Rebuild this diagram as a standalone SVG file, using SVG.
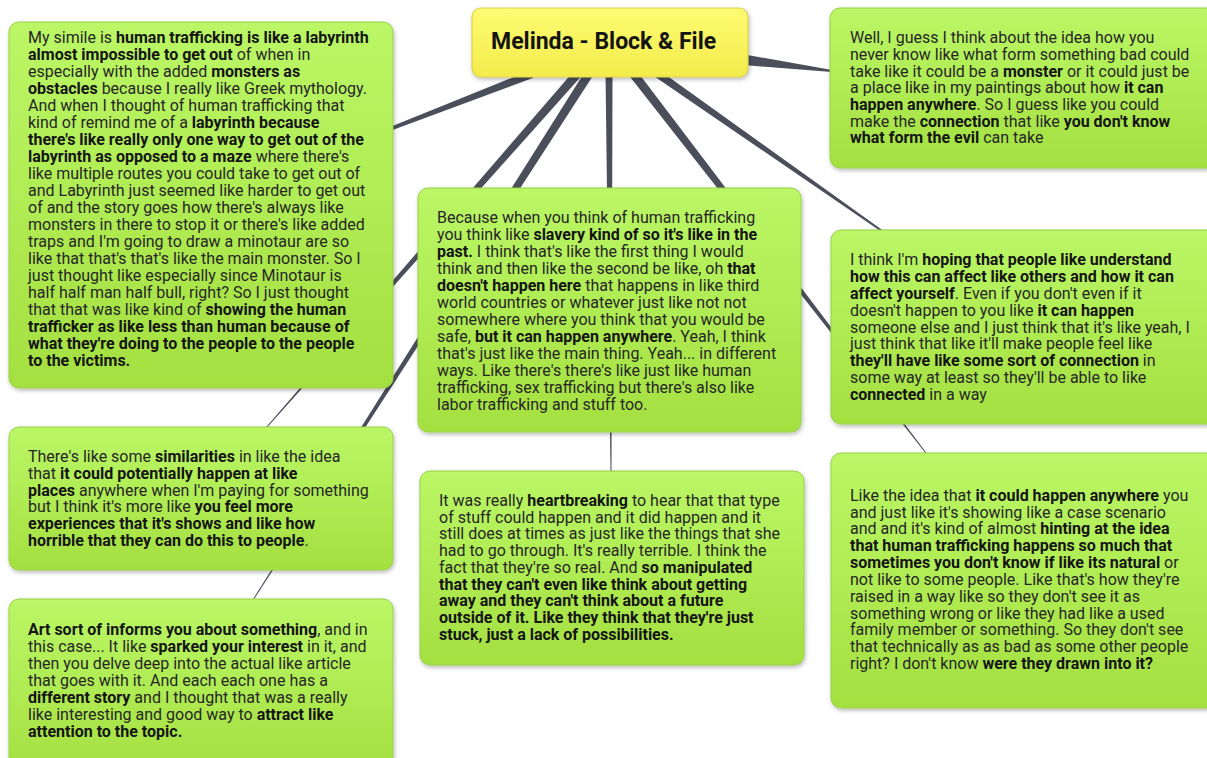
<svg xmlns="http://www.w3.org/2000/svg" width="1207" height="758" viewBox="0 0 1207 758">
  <defs>
    <linearGradient id="leaf" x1="0" y1="0" x2="0" y2="1">
      <stop offset="0" stop-color="#bbf766"/>
      <stop offset="1" stop-color="#a4e040"/>
    </linearGradient>
    <linearGradient id="sun" x1="0" y1="0" x2="0" y2="1">
      <stop offset="0" stop-color="#fdfb72"/>
      <stop offset="1" stop-color="#f3ec4c"/>
    </linearGradient>
    <filter id="shade" x="-5%" y="-5%" width="110%" height="115%">
      <feDropShadow dx="1" dy="2" stdDeviation="2" flood-color="#000" flood-opacity="0.28"/>
    </filter>
  </defs>
  <style>
    .box { fill: url(#leaf); stroke: #98d148; stroke-width: 1; filter: url(#shade); }
    .root { fill: url(#sun); stroke: #dcd24e; stroke-width: 1.2; filter: url(#shade); }
    .txt { font-family: Roboto, "Liberation Sans", sans-serif; font-size: 16px; fill: #262626; }
    .b { font-weight: bold; fill: #141414; }
    .title { font-family: Roboto, "Liberation Sans", sans-serif; font-size: 23px; font-weight: bold; fill: #141414; }
    .link { fill: #4a4f5b; }
  </style>
  <rect width="1207" height="758" fill="#ffffff"/>

  <!-- tapered branches from the central topic -->
  <g id="connectors">
    <polygon class="link" points="530.6,70.3 533.4,77.7 390.6,130.7 389.4,127.3"/>
    <polygon class="link" points="575.6,69.0 582.4,75.0 266.4,428.3 265.6,427.7"/>
    <polygon class="link" points="586.2,69.6 593.8,74.4 253.4,600.3 252.6,599.7"/>
    <polygon class="link" points="605.5,72 612.5,72 611.5,471 610.5,471"/>
    <polygon class="link" points="628.4,74.7 635.6,69.3 926.4,452.7 925.6,453.3"/>
    <polygon class="link" points="652.7,75.3 657.3,68.7 882.6,230.2 881.4,231.8"/>
    <polygon class="link" points="743.4,65.0 744.6,54.5 832.1,70.0 831.9,72.0"/>
  </g>

  <g id="root">
    <rect class="root" x="472" y="8" width="276" height="69" rx="9"/>
    <text class="title" x="491" y="49">Melinda - Block &amp; File</text>
  </g>

  <g id="simile">
    <rect class="box" x="9" y="22" width="384" height="366" rx="10"/>
    <text class="txt">
      <tspan x="28" y="43">My simile is <tspan class="b">human trafficking is like a labyrinth</tspan></tspan>
      <tspan x="28" y="60"><tspan class="b">almost impossible to get out</tspan> of when in</tspan>
      <tspan x="28" y="77">especially with the added <tspan class="b">monsters as</tspan></tspan>
      <tspan x="28" y="94"><tspan class="b">obstacles</tspan> because I really like Greek mythology.</tspan>
      <tspan x="28" y="111">And when I thought of human trafficking that</tspan>
      <tspan x="28" y="128">kind of remind me of a <tspan class="b">labyrinth because</tspan></tspan>
      <tspan x="28" y="145"><tspan class="b">there's like really only one way to get out of the</tspan></tspan>
      <tspan x="28" y="162"><tspan class="b">labyrinth as opposed to a maze</tspan> where there's</tspan>
      <tspan x="28" y="179">like multiple routes you could take to get out of</tspan>
      <tspan x="28" y="196">and Labyrinth just seemed like harder to get out</tspan>
      <tspan x="28" y="213">of and the story goes how there's always like</tspan>
      <tspan x="28" y="230">monsters in there to stop it or there's like added</tspan>
      <tspan x="28" y="247">traps and I'm going to draw a minotaur are so</tspan>
      <tspan x="28" y="264">like that that's that's like the main monster. So I</tspan>
      <tspan x="28" y="281">just thought like especially since Minotaur is</tspan>
      <tspan x="28" y="298">half half man half bull, right? So I just thought</tspan>
      <tspan x="28" y="315">that that was like kind of <tspan class="b">showing the human</tspan></tspan>
      <tspan x="28" y="332"><tspan class="b">trafficker as like less than human because of</tspan></tspan>
      <tspan x="28" y="349"><tspan class="b">what they're doing to the people to the people</tspan></tspan>
      <tspan x="28" y="366"><tspan class="b">to the victims.</tspan></tspan>
    </text>
  </g>

  <g id="evil-form">
    <rect class="box" x="830" y="8" width="387" height="160" rx="10"/>
    <text class="txt">
      <tspan x="850" y="43">Well, I guess I think about the idea how you</tspan>
      <tspan x="850" y="60">never know like what form something bad could</tspan>
      <tspan x="850" y="77">take like it could be a <tspan class="b">monster</tspan> or it could just be</tspan>
      <tspan x="850" y="93">a place like in my paintings about how <tspan class="b">it can</tspan></tspan>
      <tspan x="850" y="110"><tspan class="b">happen anywhere</tspan>. So I guess like you could</tspan>
      <tspan x="850" y="127">make the <tspan class="b">connection</tspan> that like <tspan class="b">you don't know</tspan></tspan>
      <tspan x="850" y="143"><tspan class="b">what form the evil</tspan> can take</tspan>
    </text>
  </g>

  <g id="slavery">
    <rect class="box" x="418" y="188" width="383" height="244" rx="10"/>
    <text class="txt">
      <tspan x="437" y="223">Because when you think of human trafficking</tspan>
      <tspan x="437" y="240">you think like <tspan class="b">slavery kind of so it's like in the</tspan></tspan>
      <tspan x="437" y="257"><tspan class="b">past.</tspan> I think that's like the first thing I would</tspan>
      <tspan x="437" y="274">think and then like the second be like, oh <tspan class="b">that</tspan></tspan>
      <tspan x="437" y="291"><tspan class="b">doesn't happen here</tspan> that happens in like third</tspan>
      <tspan x="437" y="308">world countries or whatever just like not not</tspan>
      <tspan x="437" y="325">somewhere where you think that you would be</tspan>
      <tspan x="437" y="342">safe, <tspan class="b">but it can happen anywhere</tspan>. Yeah, I think</tspan>
      <tspan x="437" y="359">that's just like the main thing. Yeah... in different</tspan>
      <tspan x="437" y="376">ways. Like there's there's like just like human</tspan>
      <tspan x="437" y="393">trafficking, sex trafficking but there's also like</tspan>
      <tspan x="437" y="410">labor trafficking and stuff too.</tspan>
    </text>
  </g>

  <g id="connection">
    <rect class="box" x="831" y="230" width="386" height="194" rx="10"/>
    <text class="txt">
      <tspan x="850" y="265">I think I'm <tspan class="b">hoping that people like understand</tspan></tspan>
      <tspan x="850" y="282"><tspan class="b">how this can affect like others and how it can</tspan></tspan>
      <tspan x="850" y="299"><tspan class="b">affect yourself</tspan>. Even if you don't even if it</tspan>
      <tspan x="850" y="316">doesn't happen to you like <tspan class="b">it can happen</tspan></tspan>
      <tspan x="850" y="333">someone else and I just think that it's like yeah, I</tspan>
      <tspan x="850" y="349">just think that like it'll make people feel like</tspan>
      <tspan x="850" y="366"><tspan class="b">they'll have like some sort of connection</tspan> in</tspan>
      <tspan x="850" y="383">some way at least so they'll be able to like</tspan>
      <tspan x="850" y="400"><tspan class="b">connected</tspan> in a way</tspan>
    </text>
  </g>

  <g id="similarities">
    <rect class="box" x="9" y="427" width="384" height="143" rx="10"/>
    <text class="txt">
      <tspan x="28" y="462">There's like some <tspan class="b">similarities</tspan> in like the idea</tspan>
      <tspan x="28" y="479">that <tspan class="b">it could potentially happen at like</tspan></tspan>
      <tspan x="28" y="496"><tspan class="b">places</tspan> anywhere when I'm paying for something</tspan>
      <tspan x="28" y="512">but I think it's more like <tspan class="b">you feel more</tspan></tspan>
      <tspan x="28" y="529"><tspan class="b">experiences that it's shows and like how</tspan></tspan>
      <tspan x="28" y="546"><tspan class="b">horrible that they can do this to people</tspan>.</tspan>
    </text>
  </g>

  <g id="heartbreaking">
    <rect class="box" x="420" y="471" width="384" height="194" rx="10"/>
    <text class="txt">
      <tspan x="439" y="506">It was really <tspan class="b">heartbreaking</tspan> to hear that that type</tspan>
      <tspan x="439" y="523">of stuff could happen and it did happen and it</tspan>
      <tspan x="439" y="539">still does at times as just like the things that she</tspan>
      <tspan x="439" y="556">had to go through. It's really terrible. I think the</tspan>
      <tspan x="439" y="573">fact that they're so real. And <tspan class="b">so manipulated</tspan></tspan>
      <tspan x="439" y="590"><tspan class="b">that they can't even like think about getting</tspan></tspan>
      <tspan x="439" y="606"><tspan class="b">away and they can't think about a future</tspan></tspan>
      <tspan x="439" y="623"><tspan class="b">outside of it. Like they think that they're just</tspan></tspan>
      <tspan x="439" y="640"><tspan class="b">stuck, just a lack of possibilities.</tspan></tspan>
    </text>
  </g>

  <g id="art-informs">
    <rect class="box" x="9" y="599" width="384" height="175" rx="10"/>
    <text class="txt">
      <tspan x="28" y="635"><tspan class="b">Art sort of informs you about something</tspan>, and in</tspan>
      <tspan x="28" y="652">this case... It like <tspan class="b">sparked your interest</tspan> in it, and</tspan>
      <tspan x="28" y="669">then you delve deep into the actual like article</tspan>
      <tspan x="28" y="686">that goes with it. And each each one has a</tspan>
      <tspan x="28" y="703"><tspan class="b">different story</tspan> and I thought that was a really</tspan>
      <tspan x="28" y="720">like interesting and good way to  <tspan class="b">attract like</tspan></tspan>
      <tspan x="28" y="737"><tspan class="b">attention to the topic.</tspan></tspan>
    </text>
  </g>

  <g id="anywhere">
    <rect class="box" x="831" y="453" width="386" height="255" rx="10"/>
    <text class="txt">
      <tspan x="850" y="501">Like the idea that <tspan class="b">it could happen anywhere</tspan> you</tspan>
      <tspan x="850" y="518">and just like it's showing like a case scenario</tspan>
      <tspan x="850" y="534">and and it's kind of almost <tspan class="b">hinting at the idea</tspan></tspan>
      <tspan x="850" y="551"><tspan class="b">that human trafficking happens so much that</tspan></tspan>
      <tspan x="850" y="568"><tspan class="b">sometimes you don't know if like its natural</tspan> or</tspan>
      <tspan x="850" y="585">not like to some people. Like that's how they're</tspan>
      <tspan x="850" y="602">raised in a way like so they don't see it as</tspan>
      <tspan x="850" y="619">something wrong or like they had like a used</tspan>
      <tspan x="850" y="635">family member or something. So they don't see</tspan>
      <tspan x="850" y="652">that technically as as bad as some other people</tspan>
      <tspan x="850" y="669">right? I don't know <tspan class="b">were they drawn into it?</tspan></tspan>
    </text>
  </g>
</svg>
